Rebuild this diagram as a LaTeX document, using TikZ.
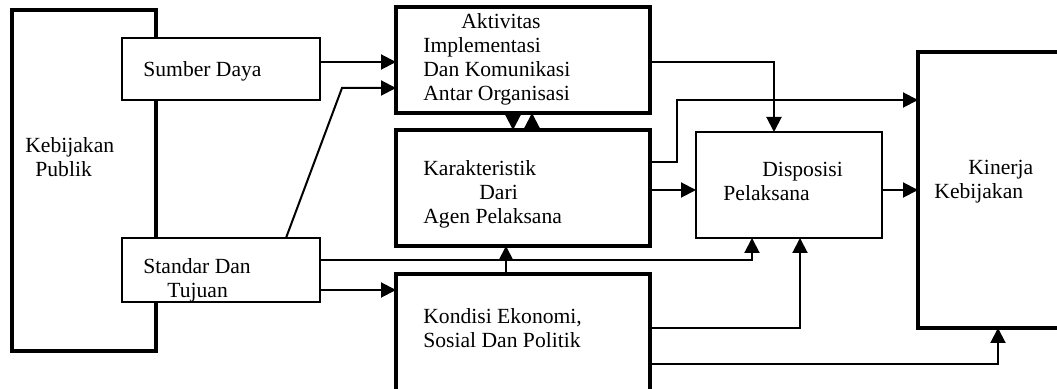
\documentclass[tikz,border=0pt]{standalone}
\usepackage{fontspec}
\setmainfont{Liberation Serif}
\usetikzlibrary{arrows.meta,fit,calc}

\tikzset{
  boxthick/.style={draw, line width=1.6pt, inner sep=0pt, outer sep=0pt, fill=white},
  boxthin/.style={draw, line width=1.2pt, inner sep=0pt, outer sep=0pt, fill=white},
  txt/.style={anchor=west, align=left, inner sep=0pt, font=\fontsize{10.8}{12}\selectfont},
  arr/.style={line width=1pt, -{Triangle[length=7.5pt,width=7.5pt]}},
  ln/.style={line width=1pt}
}

\begin{document}
\begin{tikzpicture}[x=0.5pt,y=-0.5pt]
	\useasboundingbox (0,0) rectangle (1057,389);
	\clip (0,0) rectangle (1057,389);
	% boxes
	\node[boxthick, fit={(12,10) (156,351)}] (kebijakan) {};
	\node[boxthin, fit={(122,38) (320,100)}] (sumber) {};
	\node[boxthin, fit={(122,238) (320,302)}] (standar) {};
	\node[boxthick, fit={(396,7) (650,113)}] (aktivitas) {};
	\node[boxthick, fit={(396,130) (650,246)}] (karakter) {};
	\node[boxthick, fit={(396,274) (650,410)}] (kondisi) {};
	\node[boxthin, fit={(696,132) (882,238)}] (disposisi) {};
	\node[boxthick, fit={(918,52) (1080,328)}] (kinerja) {};
	% texts
	\node[txt] (tkeb) at (25,157.5) {Kebijakan\\\hspace*{5pt}Publik};
	\node[txt] (tsum) at (143,71) {Sumber Daya};
	\node[txt] (tstd) at (143,280) {Standar Dan\\\hspace*{12pt}Tujuan};
	\node[txt] (takt) at (423,59.5) {\hspace*{19pt}Aktivitas\\Implementasi\\Dan Komunikasi\\Antar Organisasi};
	\node[txt] (tkar) at (423,194) {Karakteristik\\\hspace*{28pt}Dari\\Agen Pelaksana};
	\node[txt] (tkon) at (423,328.5) {Kondisi Ekonomi,\\Sosial Dan Politik};
	\node[txt] (tdis) at (723,181.5) {\hspace*{19.5pt}Disposisi\\Pelaksana};
	\node[txt] (tkin) at (934,181.5) {\hspace*{17pt}Kinerja\\Kebijakan};
	% connectors
	\draw[arr] (sumber.east |- 0,62) -- (aktivitas.west |- 0,62);
	\draw[arr] (standar.north -| 286,0) -- (342,88) -- (aktivitas.west |- 0,88);
	\draw[arr] (aktivitas.east |- 0,62) -| (disposisi.north -| 774,0);
	\draw[arr] (aktivitas.south -| 513,0) -- (karakter.north -| 513,0);
	\draw[arr] (karakter.north -| 532,0) -- (aktivitas.south -| 532,0);
	\draw[arr] (karakter.east |- 0,162) -- (677,162) |- (kinerja.west |- 0,100);
	\draw[arr] (karakter.east |- 0,190) -- (disposisi.west |- 0,190);
	\draw[arr] (disposisi.east |- 0,190) -- (kinerja.west |- 0,190);
	\draw[arr] (standar.east |- 0,260) -| (disposisi.south -| 752,0);
	\draw[arr] (kondisi.north -| 506,0) -- (karakter.south -| 506,0);
	\draw[arr] (standar.east |- 0,290) -- (kondisi.west |- 0,290);
	\draw[arr] (kondisi.east |- 0,328) -| (disposisi.south -| 800,0);
	\draw[arr] (kondisi.east |- 0,364) -| (kinerja.south -| 998,0);
\end{tikzpicture}
\end{document}
